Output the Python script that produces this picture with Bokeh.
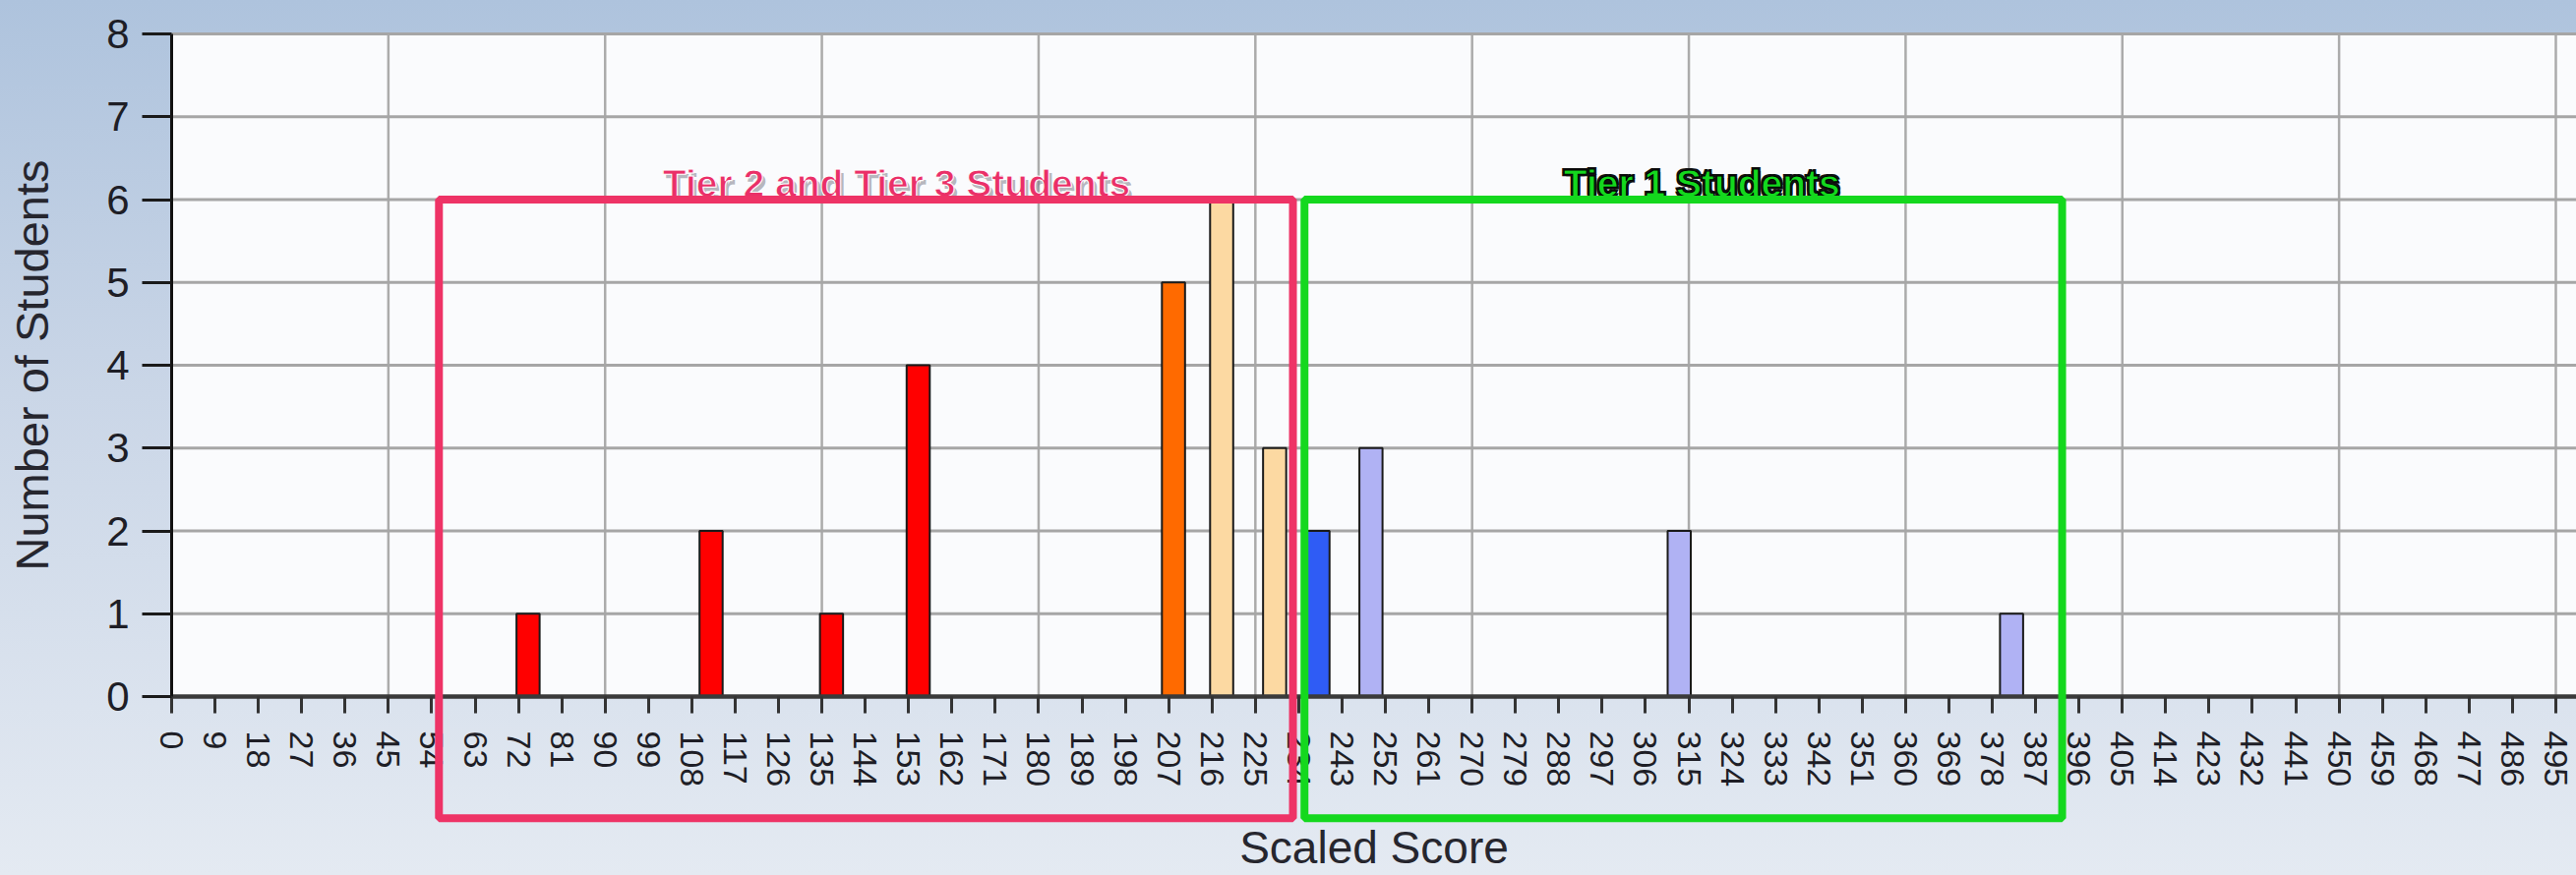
from bokeh.plotting import figure
from bokeh.models import Range1d, FixedTicker, Label, ColumnDataSource, BoxAnnotation
from bokeh.embed import file_html
from bokeh.resources import INLINE

# ---- data ----
scores = [74, 112, 137, 155, 208, 218, 229, 238, 249, 313, 382]
counts = [1, 2, 1, 4, 5, 6, 3, 2, 3, 2, 1]
bar_colors = ["#FF0000", "#FF0000", "#FF0000", "#FF0000", "#FF6A00",
              "#FCD9A2", "#FCD9A2", "#2F5CF5", "#B0B2F4", "#B0B2F4", "#B0B2F4"]
x_ticks = [0, 9, 18, 27, 36, 45, 54, 63, 72, 81, 90, 99, 108, 117, 126, 135,
           144, 153, 162, 171, 180, 189, 198, 207, 216, 225, 234, 243, 252,
           261, 270, 279, 288, 297, 306, 315, 324, 333, 342, 351, 360, 369,
           378, 387, 396, 405, 414, 423, 432, 441, 450, 459, 468, 477, 486, 495]
grid_ticks = [45, 90, 135, 180, 225, 270, 315, 360, 405, 450, 495]
y_ticks = [0, 1, 2, 3, 4, 5, 6, 7, 8]
tier_texts = ["Tier 2 and Tier 3 Students", "Tier 1 Students"]

# ---- layout: the frame fills the whole canvas, axes are pinned at 0 ----
W, H = 2619, 890
AX_X, AX_Y0, AX_Y8 = 174, 708, 34          # pixel anchors of x=0, y=0, y=8
PX_X = (2598 - AX_X) / 495.0                # pixels per score unit
PX_Y = (AX_Y0 - AX_Y8) / 8.0                # pixels per student
X_START, X_END = -AX_X / PX_X, (W - AX_X) / PX_X
Y_MIN, Y_MAX = -(H - AX_Y0) / PX_Y, 8 + AX_Y8 / PX_Y

src = ColumnDataSource(dict(x=scores, top=counts, color=bar_colors))

p = figure(width=W, height=H,
           x_range=Range1d(X_START, X_END), y_range=Range1d(Y_MIN, Y_MAX),
           output_backend="svg", toolbar_location=None,
           min_border_left=0, min_border_right=0,
           min_border_top=0, min_border_bottom=0,
           x_axis_label="Scaled Score", y_axis_label="Number of Students")
p.title.visible = False

p.background_fill_alpha = 0
p.border_fill_alpha = 0
p.outline_line_color = None
p.styles = {"background": "linear-gradient(to bottom, #AEC3DD 0%, #CAD6E7 45%, #E4EAF2 100%)"}

# white plotting area (0..8)
p.add_layout(BoxAnnotation(left=0, right=X_END, bottom=0, top=8,
                           fill_color="#FAFBFD", fill_alpha=1,
                           line_alpha=0, level="image"))

# grid lines, only inside the plotting area
p.xgrid.visible = False
p.ygrid.visible = False
vgrid = ColumnDataSource(dict(x=grid_ticks, y0=[0] * len(grid_ticks),
                              y1=[8] * len(grid_ticks)))
p.segment(x0="x", x1="x", y0="y0", y1="y1", source=vgrid,
          line_color="#ABABAB", line_width=2.5)
hgrid = ColumnDataSource(dict(y=y_ticks[1:], x0=[0] * (len(y_ticks) - 1),
                              x1=[X_END] * (len(y_ticks) - 1)))
p.segment(x0="x0", x1="x1", y0="y", y1="y", source=hgrid,
          line_color="#A6A6A6", line_width=3)

p.vbar(x="x", top="top", width=4.8, fill_color="color",
       line_color="#1A1A1A", line_width=2, source=src)

# x axis, pinned at y = 0
xa = p.xaxis[0]
xa.fixed_location = 0
xa.bounds = (0, X_END)
xa.ticker = FixedTicker(ticks=x_ticks)
xa.major_label_orientation = "vertical"
xa.major_tick_out = 17
xa.major_tick_in = 0
xa.minor_tick_out = 0
xa.minor_tick_in = 0
xa.major_tick_line_width = 3
xa.major_tick_line_color = "#333333"
xa.axis_line_width = 4.5
xa.axis_line_color = "#3A3A3A"
xa.major_label_standoff = 18
xa.major_label_text_font = "Liberation Sans"
xa.major_label_text_font_size = "34px"
xa.major_label_text_color = "#1E1E26"
xa.axis_label_text_font = "Liberation Sans"
xa.axis_label_text_font_size = "46px"
xa.axis_label_text_font_style = "normal"
xa.axis_label_text_color = "#26262E"
xa.axis_label_standoff = 33

# y axis, pinned at x = 0
ya = p.yaxis[0]
ya.fixed_location = 0
ya.bounds = (0, 8)
ya.ticker = FixedTicker(ticks=y_ticks)
ya.major_tick_out = 30
ya.major_tick_in = 0
ya.minor_tick_out = 0
ya.minor_tick_in = 0
ya.major_tick_line_width = 3
ya.major_tick_line_color = "#1A1A1A"
ya.axis_line_width = 3
ya.axis_line_color = "#111111"
ya.major_label_standoff = 13
ya.major_label_text_font = "Liberation Sans"
ya.major_label_text_font_size = "42px"
ya.major_label_text_color = "#1E1E26"
ya.axis_label_text_font = "Liberation Sans"
ya.axis_label_text_font_size = "47px"
ya.axis_label_text_font_style = "normal"
ya.axis_label_text_color = "#26262E"
ya.axis_label_standoff = 46

# tier boxes
p.add_layout(BoxAnnotation(left=55.5, right=232.8, bottom=-1.47, top=6.0,
                           fill_alpha=0, line_color="#EE3366", line_alpha=1,
                           line_width=8, level="overlay"))
p.add_layout(BoxAnnotation(left=235.2, right=392.5, bottom=-1.47, top=6.0,
                           fill_alpha=0, line_color="#14D81E", line_alpha=1,
                           line_width=8, level="overlay"))

# tier captions (halo copies underneath give the outlined look)
cap_style = dict(text_align="center", text_baseline="alphabetic",
                 text_font="Liberation Sans", text_font_size="39px",
                 text_font_style="bold")
halo = [(-2, -2), (2, -2), (-2, 2), (2, 2)]

# pink caption: soft grey drop shadow, white halo
p.add_layout(Label(x=150.5, y=6.2, x_offset=3, y_offset=-4, text=tier_texts[0],
                   text_color="#7C7C88", text_alpha=0.55, **cap_style))
p.add_layout(Label(x=150.5, y=6.2, text=tier_texts[0], text_color="#EA3068",
                   text_outline_color="white", **cap_style))

# green caption: heavy black halo
for dx, dy in halo:
    p.add_layout(Label(x=317.7, y=6.2, x_offset=dx, y_offset=dy, text=tier_texts[1],
                       text_color="#101010", **cap_style))
p.add_layout(Label(x=317.7, y=6.2, text=tier_texts[1], text_color="#14D81E",
                   text_outline_color="black", **cap_style))

open("out.html", "w").write(file_html(p, INLINE))
